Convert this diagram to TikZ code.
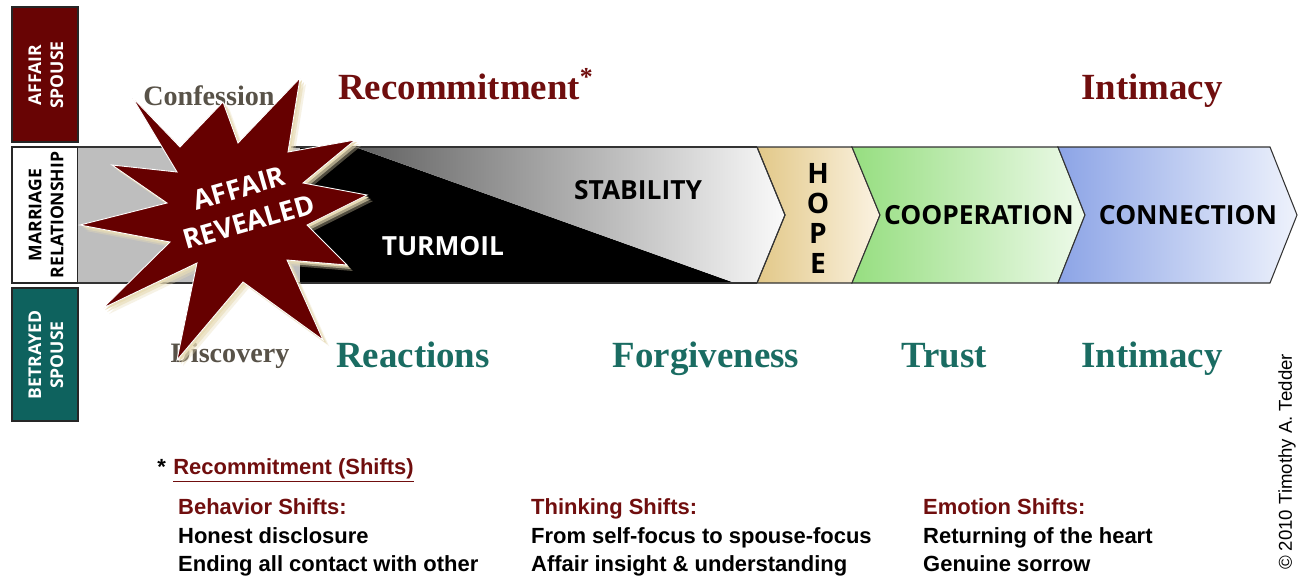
\documentclass[tikz,border=0pt]{standalone}
\usepackage{fontspec}
\usepackage{xcolor}
\setmainfont{Liberation Serif}
\setsansfont{Open Sans}
\newfontfamily\arialfont{Liberation Sans}
\definecolor{affairred}{RGB}{104,4,4}
\definecolor{starred}{RGB}{102,0,0}
\definecolor{betrayteal}{RGB}{14,98,94}
\definecolor{labelred}{RGB}{112,14,14}
\definecolor{labelteal}{RGB}{26,108,98}
\definecolor{labelgray}{RGB}{88,82,72}
\definecolor{glow}{RGB}{232,220,182}
\definecolor{bandgray}{RGB}{190,190,190}
\definecolor{hopeL}{RGB}{226,200,136}
\definecolor{hopeR}{RGB}{251,243,226}
\definecolor{coopL}{RGB}{150,222,128}
\definecolor{coopR}{RGB}{238,250,234}
\definecolor{connL}{RGB}{140,164,230}
\definecolor{connR}{RGB}{238,242,252}

\begin{document}
\begin{tikzpicture}[x=0.02cm, y=-0.02cm]
      % Define styles
      \tikzset{
        sidebox/.style={draw=black!85, line width=1.2pt},
        sidelabel/.style={rotate=90, align=center, font=\sffamily\bfseries\fontsize{10}{12.5}\selectfont},
        bandline/.style={draw=black!80, line width=0.6pt},
        bandtext/.style={font=\sffamily\bfseries\fontsize{15}{16}\selectfont},
        phase/.style={anchor=base, font=\rmfamily\bfseries\fontsize{21}{24}\selectfont},
        event/.style={labelgray, anchor=base, font=\rmfamily\bfseries\fontsize{16}{18}\selectfont},
        shifthead/.style={labelred, anchor=base west, font=\arialfont\bfseries\fontsize{12.5}{14}\selectfont},
        shiftitem/.style={black, anchor=base west, font=\arialfont\bfseries\fontsize{12.5}{14}\selectfont}
      }
      \useasboundingbox (0,0) rectangle (1298,575);
      \fill[white] (0,0) rectangle (1298,575);
      % Side boxes (left)
      \fill[affairred, sidebox] (12,7) rectangle (78,142);
      \fill[white, sidebox] (12,147) rectangle (78,283);
      \fill[betrayteal, sidebox] (12,288) rectangle (78,421);
      \node[sidelabel, white] (affairbox) at (46,75) {AFFAIR\\SPOUSE};
      \node[sidelabel, black] (marriagebox) at (46,215) {MARRIAGE\\RELATIONSHIP};
      \node[sidelabel, white] (betrayedbox) at (46,355) {BETRAYED\\SPOUSE};
      % Relationship band
      \fill[bandgray] (78,147) rectangle (360,283);
      \fill[black] (300,147) -- (355,147) -- (735,283) -- (300,283) -- cycle;
      \shade[left color=black!62, right color=black!2] (355,147) -- (757,147) -- (785,215) -- (757,283) -- (735,283) -- cycle;
      \shade[left color=hopeL, right color=hopeR, bandline] (757,147) -- (852,147) -- (880,215) -- (852,283) -- (757,283) -- (785,215) -- cycle;
      \shade[left color=coopL, right color=coopR, bandline] (852,147) -- (1058,147) -- (1085,215) -- (1058,283) -- (852,283) -- (880,215) -- cycle;
      \shade[left color=connL, right color=connR, bandline] (1058,147) -- (1270,147) -- (1297,215) -- (1270,283) -- (1058,283) -- (1085,215) -- cycle;
      \draw[bandline] (78,147) -- (757,147);
      \draw[bandline] (78,283) -- (757,283);
      \draw[bandline] (757,147) -- (785,215) -- (757,283);
      % Band labels
      \node[bandtext, white] (turmoil) at (443,246) {TURMOIL};
      \node[bandtext, black] (stability) at (638,190) {STABILITY};
      \foreach \ch [count=\k] in {H,O,P,E} {
        \node[bandtext, inner sep=0pt, font=\sffamily\bfseries\fontsize{16}{17}\selectfont] (hope\k) at (818,{143+30*\k}) {\ch};
      }
      \node[bandtext] (cooperation) at (979,215) {COOPERATION};
      \node[bandtext] (connection) at (1188,215) {CONNECTION};
      % Phase labels above and below
      \node[event] (confession) at (209,105) {Confession};
      \node[event] (discovery) at (230,362) {Discovery};
      \node[phase, labelred, anchor=base west] (recommit) at (332,99) {Recommitment\textsuperscript{*}};
      \node[phase, labelred] (intimacytop) at (1152,99) {Intimacy};
      \node[phase, labelteal] (reactions) at (413,367) {Reactions};
      \node[phase, labelteal] (forgiveness) at (706,367) {Forgiveness};
      \node[phase, labelteal] (trust) at (944,367) {Trust};
      \node[phase, labelteal] (intimacybot) at (1152,367) {Intimacy};
      % Affair revealed star
      \foreach \s/\o in {6/0.35, 4/0.6, 2/1} {
        \fill[glow, opacity=\o, xshift=\s*0.02cm, yshift=-\s*0.02cm]
          (300,78) -- (288,152) -- (355,140) -- (303,183) -- (367,195) -- (307,225) -- (347,265) -- (287,260) -- (323,340) -- (243,282) -- (177,360) -- (197,263) -- (103,308) -- (170,242) -- (80,225) -- (167,203) -- (112,165) -- (177,172) -- (132,97) -- (180,147) -- (223,102) -- (238,143) -- cycle;
      }
      \fill[starred, draw=white, line width=0.5pt]
        (300,78) -- (288,152) -- (355,140) -- (303,183) -- (367,195) -- (307,225) -- (347,265) -- (287,260) -- (323,340) -- (243,282) -- (177,360) -- (197,263) -- (103,308) -- (170,242) -- (80,225) -- (167,203) -- (112,165) -- (177,172) -- (132,97) -- (180,147) -- (223,102) -- (238,143) -- cycle;
      \node[white, rotate=16, align=center, font=\sffamily\bfseries\fontsize{15.5}{20}\selectfont] (revealed) at (244,205) {AFFAIR\\REVEALED};
      % Recommitment shifts
      \node[anchor=base west, inner sep=0pt, font=\arialfont\bfseries\fontsize{12.5}{14}\selectfont] (star) at (157,474) {*};
      \node[shifthead, inner sep=0pt] (shifts) at (173,474) {\color{labelred}\underline{Recommitment (Shifts)}};
      \node[shifthead] (behavior) at (172,514) {Behavior Shifts:};
      \node[shiftitem] (behavior1) at (172,543) {Honest disclosure};
      \node[shiftitem] (behavior2) at (172,571) {Ending all contact with other};
      \node[shifthead] (thinking) at (525,514) {Thinking Shifts:};
      \node[shiftitem] (thinking1) at (525,543) {From self-focus to spouse-focus};
      \node[shiftitem] (thinking2) at (525,571) {Affair insight \& understanding};
      \node[shifthead] (emotion) at (917,514) {Emotion Shifts:};
      \node[shiftitem] (emotion1) at (917,543) {Returning of the heart};
      \node[shiftitem] (emotion2) at (917,571) {Genuine sorrow};
      % Copyright
      \node[rotate=90, font=\arialfont\fontsize{10.6}{12}\selectfont] (copyright) at (1287,462) {\textcopyright{} 2010 Timothy A. Tedder};
    \end{tikzpicture}
\end{document}
